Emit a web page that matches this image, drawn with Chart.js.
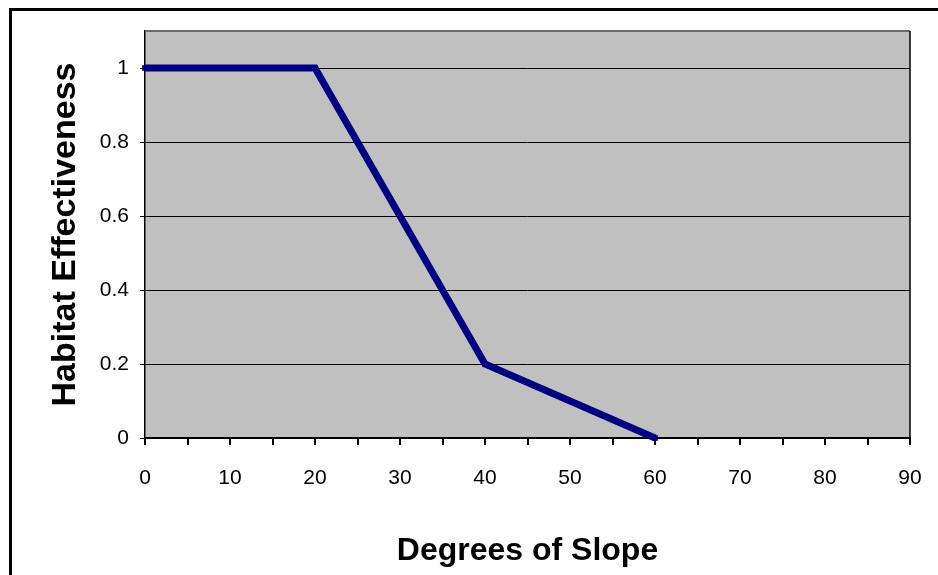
<!DOCTYPE html>
<html>
<head>
<meta charset="utf-8">
<script src="https://cdn.jsdelivr.net/npm/chart.js@4/dist/chart.umd.min.js"></script>
<style>
  html, body { margin: 0; padding: 0; background: #fff; overflow: hidden; }
  .chart-wrap { position: relative; width: 938px; height: 575px; }
  .frame {
    position: absolute; left: 9px; top: 8px; width: 1000px; height: 700px;
    border-top: 3px solid #000; border-left: 3px solid #000; pointer-events: none;
  }
</style>
</head>
<body>
<div class="chart-wrap">
  <canvas id="chart"></canvas>
  <div class="frame"></div>
</div>
<script>
const slopeDegrees = [0, 20, 40, 60];
const effectiveness = [1, 1, 0.2, 0];
const xTickLabels = [0, 10, 20, 30, 40, 50, 60, 70, 80, 90];
const yTickLabels = [0, 0.2, 0.4, 0.6, 0.8, 1];

const FONT = "Arial, 'Liberation Sans', sans-serif";

// grey plot background with its dark outline
const plotArea = {
  id: "plotArea",
  beforeDraw(chart) {
    const { ctx, chartArea: a } = chart;
    ctx.save();
    ctx.fillStyle = "#c0c0c0";
    ctx.fillRect(a.left, a.top, a.right - a.left, a.bottom - a.top);
    ctx.restore();
  },
  afterDatasetsDraw(chart) {
    const { ctx, chartArea: a } = chart;
    ctx.save();
    ctx.strokeStyle = "#6a6a6a";
    ctx.lineWidth = 2;
    ctx.beginPath();
    ctx.moveTo(a.left, a.top);
    ctx.lineTo(a.right, a.top);
    ctx.stroke();
    ctx.strokeStyle = "#000";
    ctx.lineWidth = 1.5;
    ctx.beginPath();
    ctx.moveTo(a.right, a.top);
    ctx.lineTo(a.right, a.bottom);
    ctx.stroke();
    ctx.restore();
  }
};

new Chart(document.getElementById("chart"), {
  type: "line",
  data: {
    datasets: [{
      data: slopeDegrees.map((x, i) => ({ x, y: effectiveness[i] })),
      borderColor: "#000080",
      backgroundColor: "#000080",
      borderWidth: 7,
      pointStyle: "rect",
      pointRadius: 4,
      pointBorderWidth: 0,
      tension: 0,
      clip: false
    }]
  },
  plugins: [plotArea],
  options: {
    responsive: true,
    maintainAspectRatio: false,
    animation: false,
    layout: { padding: { top: 31, right: 28, left: 0, bottom: 0 } },
    plugins: { legend: { display: false }, tooltip: { enabled: false } },
    scales: {
      x: {
        type: "linear",
        min: 0,
        max: 90,
        afterFit(s) { s.height = 137; s.paddingLeft = 0; s.paddingRight = 0; },
        ticks: {
          stepSize: 5,
          color: "#000",
          padding: 21,
          maxRotation: 0,
          autoSkip: false,
          font: { family: FONT, size: 21 },
          callback: v => xTickLabels.includes(v) ? String(v) : ""
        },
        grid: { drawOnChartArea: false, color: "#000", lineWidth: 2, tickLength: 7 },
        border: { color: "#000", width: 2 },
        title: {
          display: true,
          text: "Degrees of Slope",
          color: "#000",
          font: { family: FONT, size: 32, weight: "bold" },
          padding: { top: 0, bottom: 5 }
        }
      },
      y: {
        min: 0,
        max: 1.1,
        afterFit(s) { s.width = 145; s.paddingTop = 0; s.paddingBottom = 0; },
        afterBuildTicks(s) { s.ticks = s.ticks.filter(t => t.value <= 1.0001); },
        ticks: {
          stepSize: 0.2,
          color: "#000",
          padding: 11,
          font: { family: FONT, size: 21 },
          callback: v => {
            const r = Math.round(v * 10) / 10;
            return yTickLabels.includes(r) ? String(r) : "";
          }
        },
        grid: { color: "#000", lineWidth: 1, tickLength: 5 },
        border: { color: "#000", width: 1.5 },
        title: {
          display: true,
          text: "Habitat Effectiveness",
          color: "#000",
          font: { family: FONT, size: 34, weight: "bold" },
          padding: { top: 45, bottom: 0 }
        }
      }
    }
  }
});
</script>
</body>
</html>
